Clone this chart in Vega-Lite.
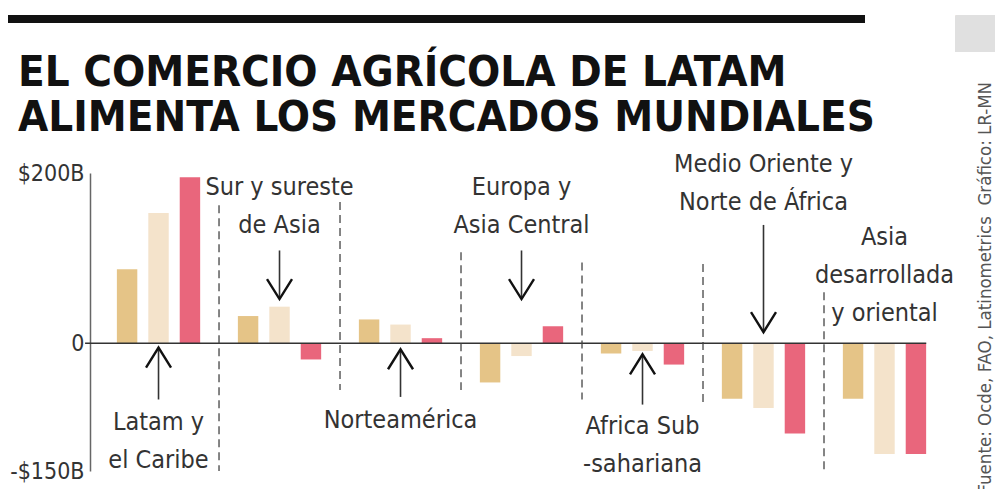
{
  "$schema": "https://vega.github.io/schema/vega-lite/v6.json",
  "background": "white",
  "padding": {"left": 8, "top": 6, "right": 0, "bottom": 0},
  "config": {"view": {"stroke": null}, "font": "'DejaVu Sans Condensed', 'Liberation Sans Narrow', Roboto, sans-serif"},
  "datasets": {
    "bars": [
      {"region": "Latam y el Caribe", "serie": "s1", "value": 87},
      {"region": "Latam y el Caribe", "serie": "s2", "value": 153},
      {"region": "Latam y el Caribe", "serie": "s3", "value": 195},
      {"region": "Sur y sureste de Asia", "serie": "s1", "value": 32},
      {"region": "Sur y sureste de Asia", "serie": "s2", "value": 43},
      {"region": "Sur y sureste de Asia", "serie": "s3", "value": -19},
      {"region": "Norteamérica", "serie": "s1", "value": 28},
      {"region": "Norteamérica", "serie": "s2", "value": 22},
      {"region": "Norteamérica", "serie": "s3", "value": 6},
      {"region": "Europa y Asia Central", "serie": "s1", "value": -46},
      {"region": "Europa y Asia Central", "serie": "s2", "value": -15},
      {"region": "Europa y Asia Central", "serie": "s3", "value": 20},
      {"region": "Africa Subsahariana", "serie": "s1", "value": -12},
      {"region": "Africa Subsahariana", "serie": "s2", "value": -9},
      {"region": "Africa Subsahariana", "serie": "s3", "value": -25},
      {"region": "Medio Oriente y Norte de África", "serie": "s1", "value": -65},
      {"region": "Medio Oriente y Norte de África", "serie": "s2", "value": -76},
      {"region": "Medio Oriente y Norte de África", "serie": "s3", "value": -106},
      {"region": "Asia desarrollada y oriental", "serie": "s1", "value": -65},
      {"region": "Asia desarrollada y oriental", "serie": "s2", "value": -130},
      {"region": "Asia desarrollada y oriental", "serie": "s3", "value": -130}
    ],
    "zero": [
      {"region": "Latam y el Caribe", "end": "Asia desarrollada y oriental"}
    ],
    "seps": [
      {"region": "Sur y sureste de Asia", "top": 162, "bottom": -150},
      {"region": "Norteamérica", "top": 166, "bottom": -55},
      {"region": "Europa y Asia Central", "top": 107, "bottom": -55},
      {"region": "Africa Subsahariana", "top": 95, "bottom": -66},
      {"region": "Medio Oriente y Norte de África", "top": 93, "bottom": -69},
      {"region": "Asia desarrollada y oriental", "top": 60, "bottom": -150}
    ],
    "arrows": [
      {"region": "Latam y el Caribe", "dir": "up", "tip": -5, "tail": -66},
      {"region": "Sur y sureste de Asia", "dir": "down", "tip": 52, "tail": 109},
      {"region": "Norteamérica", "dir": "up", "tip": -7, "tail": -63},
      {"region": "Europa y Asia Central", "dir": "down", "tip": 52, "tail": 109},
      {"region": "Africa Subsahariana", "dir": "up", "tip": -13, "tail": -72},
      {"region": "Medio Oriente y Norte de África", "dir": "down", "tip": 13, "tail": 139}
    ],
    "labels": [
      {"region": "Latam y el Caribe", "label": "Latam y\nel Caribe", "ty": -102},
      {"region": "Sur y sureste de Asia", "label": "Sur y sureste\nde Asia", "ty": 174},
      {"region": "Norteamérica", "label": "Norteamérica", "ty": -100},
      {"region": "Europa y Asia Central", "label": "Europa y\nAsia Central", "ty": 174},
      {"region": "Africa Subsahariana", "label": "Africa Sub\n-sahariana", "ty": -106},
      {"region": "Medio Oriente y Norte de África", "label": "Medio Oriente y\nNorte de África", "ty": 201},
      {"region": "Asia desarrollada y oriental", "label": "Asia\ndesarrollada\ny oriental", "ty": 116}
    ]
  },
  "spacing": -14,
  "hconcat": [
    {
      "spacing": 12,
      "vconcat": [
        {
          "width": 857,
          "height": 8,
          "view": {"fill": "#111111", "stroke": null},
          "data": {"values": [{}]},
          "mark": {"type": "point", "opacity": 0},
          "encoding": {},
          "title": {
            "text": ["EL COMERCIO AGRÍCOLA DE LATAM", "ALIMENTA LOS MERCADOS MUNDIALES"],
            "orient": "bottom",
            "anchor": "start",
            "frame": "group",
            "align": "left",
            "baseline": "top",
            "offset": 29,
            "dx": 10,
            "fontSize": 43.5,
            "fontWeight": "bold",
            "lineHeight": 45,
            "color": "#111111"
          }
        },
        {
          "width": 937,
          "height": 298,
          "layer": [
            {
              "data": {"name": "bars"},
              "mark": {"type": "bar"},
              "encoding": {
                "x": {
                  "field": "region", "type": "nominal", "sort": null, "axis": null,
                  "scale": {
                    "domain": ["Latam y el Caribe", "Sur y sureste de Asia", "Norteamérica", "Europa y Asia Central", "Africa Subsahariana", "Medio Oriente y Norte de África", "Asia desarrollada y oriental"],
                    "paddingInner": 0, "paddingOuter": 0.372, "align": 1
                  }
                },
                "xOffset": {
                  "field": "serie", "type": "nominal",
                  "scale": {"domain": ["s1", "s2", "s3"], "paddingInner": 0.35, "paddingOuter": 0.6}
                },
                "y": {
                  "field": "value", "type": "quantitative",
                  "scale": {"domain": [-150, 200], "nice": false},
                  "axis": {
                    "values": [-150, 0, 200],
                    "labelExpr": "datum.value == 200 ? '$200B' : (datum.value == 0 ? '0' : '-$150B')",
                    "title": null, "grid": false, "ticks": false,
                    "offset": -82,
                    "domainColor": "#666666", "domainWidth": 1.5,
                    "labelFontSize": 23, "labelColor": "#333333",
                    "labelPadding": 6, "labelBaseline": "middle",
                    "minExtent": 0, "maxExtent": 0
                  }
                },
                "color": {
                  "field": "serie", "type": "nominal", "legend": null,
                  "scale": {"domain": ["s1", "s2", "s3"], "range": ["#e5c487", "#f4e3cb", "#e9667c"]}
                }
              }
            },
            {
              "data": {"name": "zero"},
              "mark": {"type": "rule", "stroke": "#333333", "strokeWidth": 1.6},
              "encoding": {
                "x": {"field": "region", "type": "nominal", "bandPosition": -0.107},
                "x2": {"field": "end", "bandPosition": 0.845},
                "y": {"datum": 0, "type": "quantitative"}
              }
            },
            {
              "data": {"name": "seps"},
              "mark": {"type": "rule", "stroke": "#444444", "strokeWidth": 1.3, "strokeDash": [8, 5]},
              "encoding": {
                "x": {"field": "region", "type": "nominal", "bandPosition": 0},
                "y": {"field": "top", "type": "quantitative"},
                "y2": {"field": "bottom"}
              }
            },
            {
              "data": {"name": "arrows"},
              "mark": {"type": "rule", "stroke": "#333333", "strokeWidth": 1.6},
              "encoding": {
                "x": {"field": "region", "type": "nominal", "bandPosition": 0.5},
                "y": {"field": "tip", "type": "quantitative"},
                "y2": {"field": "tail"}
              }
            },
            {
              "data": {"name": "arrows"},
              "mark": {"type": "point", "filled": false, "opacity": 1, "strokeWidth": 2.4, "size": 625, "color": "#111111"},
              "encoding": {
                "x": {"field": "region", "type": "nominal", "bandPosition": 0.5},
                "y": {"field": "tip", "type": "quantitative"},
                "shape": {
                  "field": "dir", "type": "nominal", "legend": null,
                  "scale": {"domain": ["up", "down"], "range": ["M-1,1.6L0,0L1,1.6", "M-1,-1.6L0,0L1,-1.6"]}
                }
              }
            },
            {
              "data": {"name": "labels"},
              "mark": {"type": "text", "lineBreak": "\n", "align": "center", "baseline": "alphabetic", "fontSize": 25, "lineHeight": 38, "color": "#333333"},
              "encoding": {
                "x": {"field": "region", "type": "nominal", "bandPosition": 0.5},
                "y": {"field": "ty", "type": "quantitative"},
                "text": {"field": "label"}
              }
            }
          ]
        }
      ]
    },
    {
      "width": 43,
      "height": 37,
      "view": {"fill": "#e0e0e0", "stroke": null},
      "data": {"values": [{}]},
      "mark": {"type": "text", "text": "↗", "x": {"expr": "width/2"}, "y": {"expr": "height/2"}, "align": "center", "baseline": "middle", "fontSize": 18, "color": "#ffffff", "font": "DejaVu Sans"},
      "encoding": {},
      "title": {
        "text": "Fuente: Ocde, FAO, Latinometrics \u00a0Gráfico: LR-MN",
        "orient": "bottom",
        "anchor": "middle",
        "angle": 270,
        "align": "right",
        "baseline": "middle",
        "offset": 30,
        "dy": 8,
        "fontSize": 18.5,
        "fontWeight": "normal",
        "color": "#555555"
      }
    }
  ]
}
